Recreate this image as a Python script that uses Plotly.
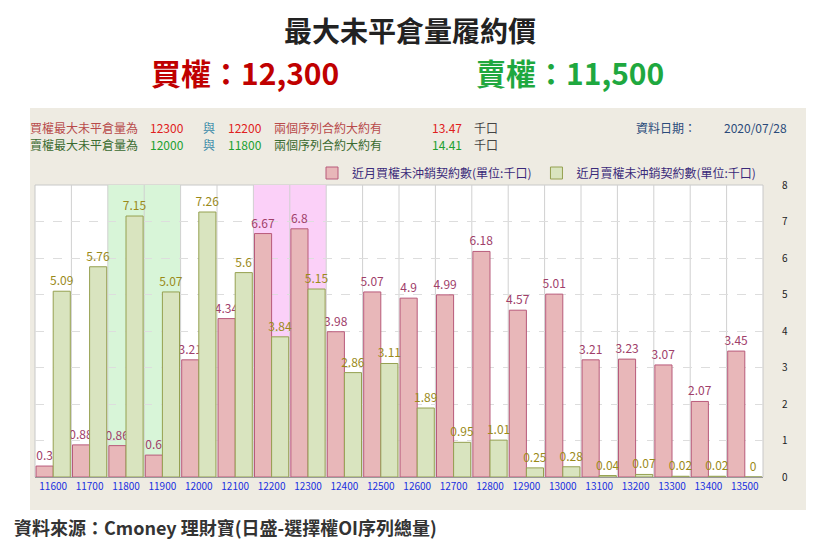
import plotly.graph_objects as go

strikes = ["11600","11700","11800","11900","12000","12100","12200","12300","12400","12500",
           "12600","12700","12800","12900","13000","13100","13200","13300","13400","13500"]
call_oi = [0.3,0.88,0.86,0.6,3.21,4.34,6.67,6.8,3.98,5.07,4.9,4.99,6.18,4.57,5.01,3.21,3.23,3.07,2.07,3.45]
put_oi = [5.09,5.76,7.15,5.07,7.26,5.6,3.84,5.15,2.86,3.11,1.89,0.95,1.01,0.25,0.28,0.04,0.07,0.02,0.02,0]
yticks = [0,1,2,3,4,5,6,7,8]

OFF = 8  # browser body margin
L, R, T, B = 35 - OFF, 763 - OFF, 185 - OFF, 477 - OFF
W, H = 820, 551
def px(x): return (x - OFF - L) / (R - L)
def py(y): return (B - (y - OFF)) / (B - T)

fig = go.Figure()
fig.add_bar(x=strikes, y=call_oi, name="近月買權未沖銷契約數(單位:千口)",
            marker=dict(color="#e8b7b9", line=dict(color="#b85a7a", width=1)),
            text=[str(v) for v in call_oi], textposition="outside",
            textfont=dict(color="#a0406a", size=12), cliponaxis=False)
fig.add_bar(x=strikes, y=put_oi, name="近月賣權未沖銷契約數(單位:千口)",
            marker=dict(color="#d9e4bf", line=dict(color="#95a050", width=1)),
            text=[str(v) for v in put_oi], textposition="outside",
            textfont=dict(color="#9a8a1a", size=12), cliponaxis=False)

shapes = [
    dict(type="rect", xref="paper", yref="paper", x0=px(30), x1=px(806), y0=py(510), y1=py(108),
         fillcolor="#eeebe2", line=dict(width=0), layer="below"),
    dict(type="rect", xref="paper", yref="paper", x0=0, x1=1, y0=0, y1=1,
         fillcolor="white", line=dict(color="#c8c8c8", width=1), layer="below"),
    dict(type="rect", xref="x", yref="paper", x0=1.5, x1=3.5, y0=0, y1=1,
         fillcolor="#d8f5d8", line=dict(width=0), layer="below"),
    dict(type="rect", xref="x", yref="paper", x0=5.5, x1=7.5, y0=0, y1=1,
         fillcolor="#fbd0f8", line=dict(width=0), layer="below"),
]
for i in range(1, len(strikes)):
    shapes.append(dict(type="line", xref="x", yref="paper", x0=i-0.5, x1=i-0.5, y0=0, y1=1,
                       line=dict(color="#d0d0d0", width=1), layer="below"))

F = "Noto Sans CJK TC"
ann = []
def t(x, y, s, color, size=12, anchor="left", bold=False):
    ann.append(dict(xref="paper", yref="paper", x=px(x), y=py(y), text=("<b>%s</b>" % s) if bold else s,
                    showarrow=False, xanchor=anchor, yanchor="middle",
                    font=dict(color=color, size=size, family=F)))

t(410, 30, "最大未平倉量履約價", "#222222", 28, "center", True)
t(245, 72, "買權：12,300", "#c00000", 30, "center", True)
t(570, 72, "賣權：11,500", "#1fa83f", 30, "center", True)
t(28, 127, "買權最大未平倉量為", "#b84a4a", 12)
t(148, 127, "12300", "#e02020", 12)
t(201, 127, "與", "#3a8aa8", 12)
t(226, 127, "12200", "#e02020", 12)
t(272, 127, "兩個序列合約大約有", "#b84a4a", 12)
t(430, 127, "13.47", "#e02020", 12)
t(472, 127, "千口", "#444444", 12)
t(634, 127, "資料日期：", "#2a4a7a", 12)
t(722, 127, "2020/07/28", "#2a4a7a", 12)
t(28, 145, "賣權最大未平倉量為", "#3a6a30", 12)
t(148, 145, "12000", "#20a030", 12)
t(201, 145, "與", "#3a8aa8", 12)
t(226, 145, "11800", "#20a030", 12)
t(272, 145, "兩個序列合約大約有", "#3a6a30", 12)
t(430, 145, "14.41", "#20a030", 12)
t(472, 145, "千口", "#444444", 12)
t(12, 527, "資料來源：Cmoney 理財寶(日盛-選擇權OI序列總量)", "#333333", 18, "left", True)

fig.update_layout(
    width=W, height=H, margin=dict(l=L, r=W-R, t=T, b=H-B, autoexpand=False),
    paper_bgcolor="white", plot_bgcolor="rgba(0,0,0,0)",
    barmode="group", bargap=0.06, bargroupgap=0,
    uniformtext=dict(minsize=12, mode="show"),
    shapes=shapes, annotations=ann,
    font=dict(family=F),
    legend=dict(orientation="h", x=px(312), y=py(173), xanchor="left", yanchor="middle",
                bgcolor="rgba(0,0,0,0)", font=dict(size=12, color="#3a2a7a"),
                itemwidth=30, traceorder="normal"),
    xaxis=dict(type="category", tickfont=dict(color="#2030e0", size=10), showgrid=False,
               ticks="", linecolor="#999999", showline=True, automargin=False),
    yaxis=dict(range=[0, 8], tickvals=yticks, side="right", showgrid=True,
               gridcolor="#dddddd", griddash="dash", zeroline=False, automargin=False,
               tickfont=dict(size=10, color="#222222"), ticklabelstandoff=18),
)
fig.write_html("out.html")
